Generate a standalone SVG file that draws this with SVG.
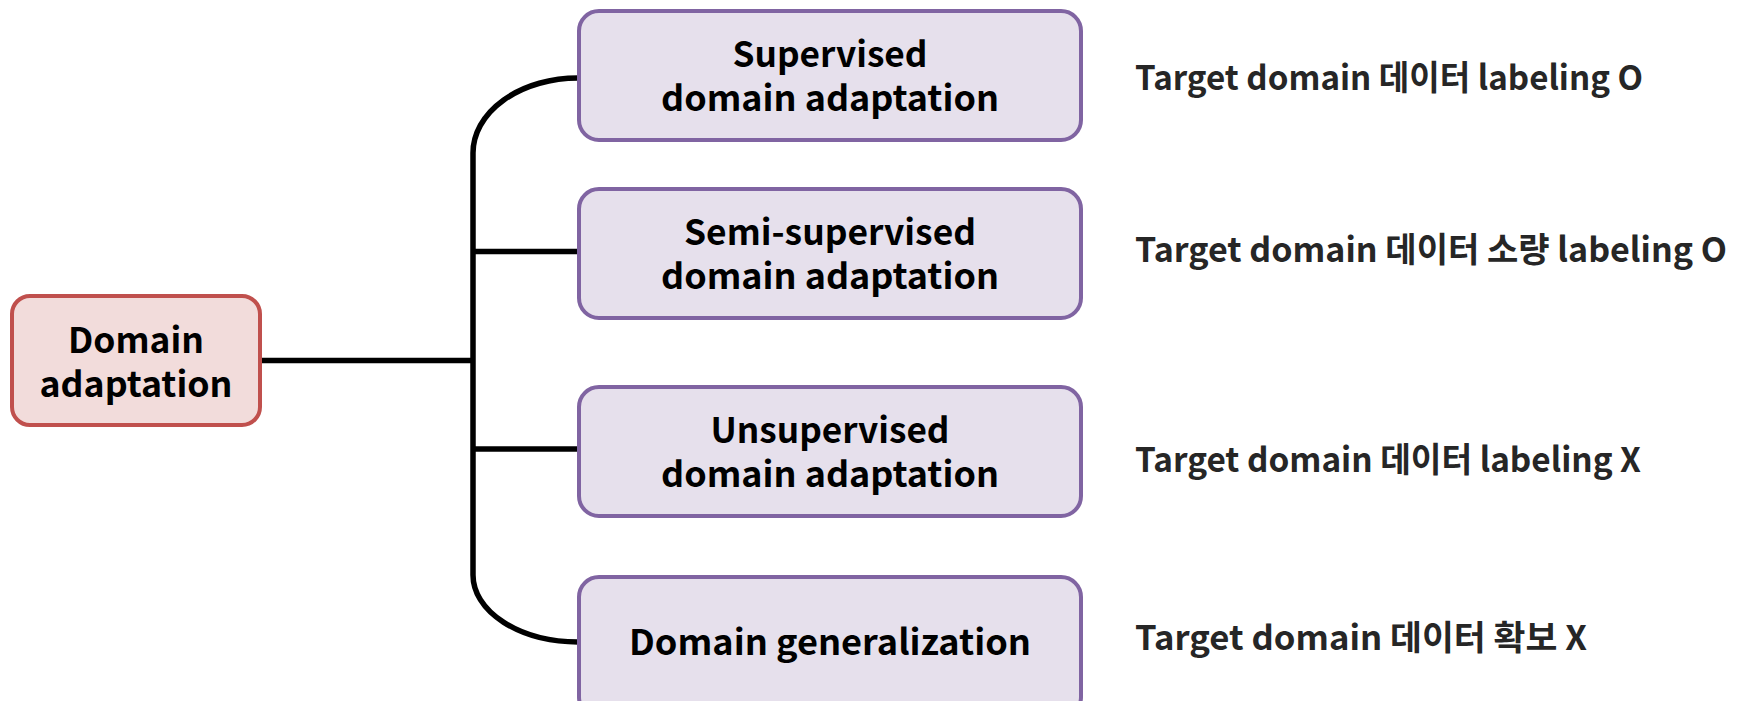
<svg xmlns="http://www.w3.org/2000/svg" width="1742" height="701" viewBox="0 0 1742 701">
<style>
  .root { fill: #f2dcdb; stroke: #c0504d; stroke-width: 4; }
  .box { fill: #e6e0ec; stroke: #8064a2; stroke-width: 4; }
  .t { font-family: "Noto Sans CJK KR", "Noto Sans", sans-serif; font-weight: bold; font-size: 35px; fill: #000; text-anchor: middle; }
  .d { font-family: "Noto Sans CJK KR", "Noto Sans", sans-serif; font-weight: bold; font-size: 34px; fill: #262626; }
  .c { fill: none; stroke: #000; stroke-width: 5.5; }
</style>
<rect width="1742" height="701" fill="#fff"/>
<g id="connectors">
  <path class="c" d="M262,360.5 H473"/>
  <path class="c" d="M578,78 A105 75 0 0 0 473,153 V575 A105 67 0 0 0 578,642"/>
  <path class="c" d="M473,251.5 H578"/>
  <path class="c" d="M473,449 H578"/>
</g>
<g id="domain-adaptation">
  <rect class="root" x="12" y="296" width="248" height="129" rx="18"/>
  <text class="t" x="136" y="353" textLength="136" lengthAdjust="spacingAndGlyphs">Domain</text>
  <text class="t" x="136" y="397" textLength="193" lengthAdjust="spacingAndGlyphs">adaptation</text>
</g>
<g id="supervised">
  <rect class="box" x="579" y="11" width="502" height="129" rx="20"/>
  <text class="t" x="830" y="67" textLength="195" lengthAdjust="spacingAndGlyphs">Supervised</text>
  <text class="t" x="830" y="111" textLength="338" lengthAdjust="spacingAndGlyphs">domain adaptation</text>
</g>
<g id="semi-supervised">
  <rect class="box" x="579" y="189" width="502" height="129" rx="20"/>
  <text class="t" x="830" y="245" textLength="292" lengthAdjust="spacingAndGlyphs">Semi-supervised</text>
  <text class="t" x="830" y="289" textLength="338" lengthAdjust="spacingAndGlyphs">domain adaptation</text>
</g>
<g id="unsupervised">
  <rect class="box" x="579" y="387" width="502" height="129" rx="20"/>
  <text class="t" x="830" y="443" textLength="239" lengthAdjust="spacingAndGlyphs">Unsupervised</text>
  <text class="t" x="830" y="487" textLength="338" lengthAdjust="spacingAndGlyphs">domain adaptation</text>
</g>
<g id="domain-generalization">
  <rect class="box" x="579" y="577" width="502" height="140" rx="20"/>
  <text class="t" x="830" y="655" textLength="402" lengthAdjust="spacingAndGlyphs">Domain generalization</text>
</g>
<g id="descriptions">
  <text class="d" x="1135" y="90" textLength="508" lengthAdjust="spacingAndGlyphs">Target domain 데이터 labeling O</text>
  <text class="d" x="1135" y="262" textLength="592" lengthAdjust="spacingAndGlyphs">Target domain 데이터 소량 labeling O</text>
  <text class="d" x="1135" y="472" textLength="506" lengthAdjust="spacingAndGlyphs">Target domain 데이터 labeling X</text>
  <text class="d" x="1135" y="650" textLength="452" lengthAdjust="spacingAndGlyphs">Target domain 데이터 확보 X</text>
</g>
</svg>
